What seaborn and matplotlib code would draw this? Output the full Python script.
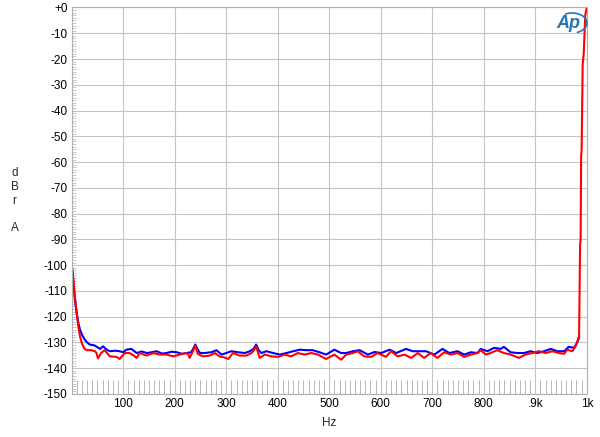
import seaborn as sns
import matplotlib.pyplot as plt
from matplotlib.ticker import MultipleLocator, FixedLocator
from matplotlib.patches import Arc

# blue trace (Hz, dBr)
blue_hz = [1, 3, 6, 10, 13, 16, 20, 25, 30, 35, 45, 55, 61, 68, 74, 84, 93, 100, 106, 116,
           126, 136, 146, 155, 165, 175, 184, 194, 204, 214, 223, 232, 237, 240, 244, 249,
           258, 271, 281, 291, 300, 310, 323, 336, 346, 353, 358, 363, 368, 378, 391, 404,
           417, 430, 443, 455, 468, 481, 494, 510, 523, 533, 546, 559, 575, 588, 601, 617,
           630, 649, 662, 675, 688, 704, 720, 733, 749, 762, 775, 788, 794, 807, 820, 833,
           839, 852, 865, 878, 891, 904, 917, 930, 943, 956, 965, 975, 981, 985]
blue_db = [-102, -106, -113, -119, -122.5, -125, -127, -128.8, -130, -130.8, -131.2, -132.5,
           -131.5, -132.8, -133.4, -133.2, -133.4, -133.8, -132.8, -132.5, -134.1, -133.5,
           -134.1, -133.8, -133.4, -134.3, -134.1, -133.6, -133.8, -134.4, -134.1, -133.8,
           -132, -130.8, -132.5, -134.1, -134.1, -133.8, -133.0, -134.7, -134.1, -133.4,
           -133.8, -134.1, -133.4, -132.5, -130.8, -133, -134.1, -133.4, -134.1, -134.7,
           -134.1, -133.4, -132.8, -133.0, -133.0, -133.8, -134.7, -132.8, -134.1, -134.1,
           -133.4, -133.0, -134.7, -133.7, -134.1, -132.8, -134.1, -132.5, -133.4, -133.4,
           -133.4, -134.7, -132.5, -134.1, -133.4, -134.7, -133.8, -134.1, -132.5, -133.4,
           -132.1, -132.5, -131.7, -133.8, -134.1, -134.1, -133.4, -134.1, -133.4, -132.5,
           -133.4, -133.4, -131.7, -132.1, -130.2, -127.6]

# red trace (Hz, dBr)
red_hz = [1, 3, 6, 10, 13, 16, 20, 25, 30, 38, 45, 48, 51, 57, 64, 74, 87, 93, 103, 112,
          120, 126, 132, 145, 158, 171, 184, 197, 210, 222, 226, 229, 235, 240, 245, 255,
          268, 278, 287, 296, 304, 313, 326, 339, 349, 354, 358, 362, 365, 375, 388, 401,
          413, 426, 439, 452, 465, 478, 488, 494, 510, 523, 533, 546, 555, 568, 581, 594,
          610, 620, 633, 646, 659, 672, 684, 697, 710, 723, 736, 749, 762, 775, 788, 794,
          804, 813, 826, 839, 852, 868, 881, 894, 907, 920, 933, 946, 956, 962, 972, 978,
          985, 987, 988, 989, 990, 992, 994, 997, 1000]
red_db = [-101, -105, -112, -119, -124, -127.5, -130.5, -132.5, -133, -133, -133.4, -134,
          -136.2, -134.1, -133.0, -135.4, -135.6, -136.4, -134.1, -134.1, -135, -136.0,
          -134.1, -135.1, -134.1, -134.7, -134.7, -135.4, -134.7, -134.1, -134.5, -136.0,
          -133.5, -131.3, -134.5, -135.4, -135.1, -134.1, -135.4, -135.8, -136.4, -134.1,
          -135.1, -135.1, -134.1, -133, -131.5, -134, -136.0, -134.7, -135.4, -135.6,
          -134.7, -135.4, -134.1, -134.7, -134.1, -134.7, -135.8, -136.4, -134.7, -136.7,
          -134.7, -134.1, -133.4, -135.4, -135.6, -134.1, -135.6, -133.4, -135.4, -134.7,
          -136.0, -134.1, -136.0, -134.1, -136.0, -133.8, -134.7, -134.1, -135.6, -134.7,
          -134.1, -133.0, -134.7, -134.1, -133.0, -134.1, -134.7, -136.0, -134.7, -134.1,
          -133.4, -134.1, -133.4, -134.1, -134.4, -132.8, -133.4, -131.5, -128.2, -92,
          -90, -58, -55, -22, -18, -3, 0]

x_ticks = [100, 200, 300, 400, 500, 600, 700, 800, 900, 1000]
x_labels = ["100", "200", "300", "400", "500", "600", "700", "800", ".9k", "1k"]
y_ticks = list(range(0, -151, -10))
y_labels = ["+0"] + [str(v) for v in y_ticks[1:]]

sns.set_style("white")
plt.rcParams['font.family'] = ['Liberation Sans', 'DejaVu Sans']

fig = plt.figure(figsize=(6, 4.37), dpi=100)
ax = fig.add_axes([0.1195, 0.0984, 0.8585, 0.8845])

sns.lineplot(x=blue_hz, y=blue_db, color="#0000ff", lw=1.5, ax=ax)
sns.lineplot(x=red_hz, y=red_db, color="#ff0000", lw=1.5, ax=ax)

ax.set_xlim(0, 1000)
ax.set_ylim(-150, 0)
ax.xaxis.set_major_locator(FixedLocator(x_ticks))
ax.set_xticklabels(x_labels)
ax.yaxis.set_major_locator(FixedLocator(y_ticks))
ax.set_yticklabels(y_labels)
ax.xaxis.set_minor_locator(MultipleLocator(10))
ax.yaxis.set_minor_locator(MultipleLocator(1))

ax.grid(False, which="both")
ax.grid(True, which="major", color="#c4c4c4", lw=0.8)
ax.set_axisbelow(True)
ax.tick_params(which="major", length=0, labelsize=8.5, pad=3, colors="black")
ax.tick_params(axis="x", which="minor", direction="in", length=10, width=0.7,
               color="#b8b8b8", bottom=True)
ax.tick_params(axis="y", which="minor", direction="in", length=3, width=0.6,
               color="#c0c0c0", left=True)
for s in ax.spines.values():
    s.set_color("#b0b0b0")
    s.set_linewidth(0.8)

ax.set_xlabel("Hz", fontsize=8.5, labelpad=5)
ax.set_ylabel("d\nB\nr\n\nA", rotation=0, fontsize=8.5, va="center", ha="center")
ax.yaxis.set_label_coords(-0.111, 0.5)

# Audio Precision logo
fig.text(568 / 600, 1 - 24 / 437, "Ap", color="#2377b8", fontsize=13,
         fontstyle="italic", fontweight="bold", ha="center", va="center")
arc = Arc((572 / 600, 1 - 23 / 437), 30 / 600, 20 / 437, theta1=-70, theta2=120,
          transform=fig.transFigure, color="#2377b8", lw=1.2)
fig.add_artist(arc)

fig.savefig("out.png", dpi=100)
